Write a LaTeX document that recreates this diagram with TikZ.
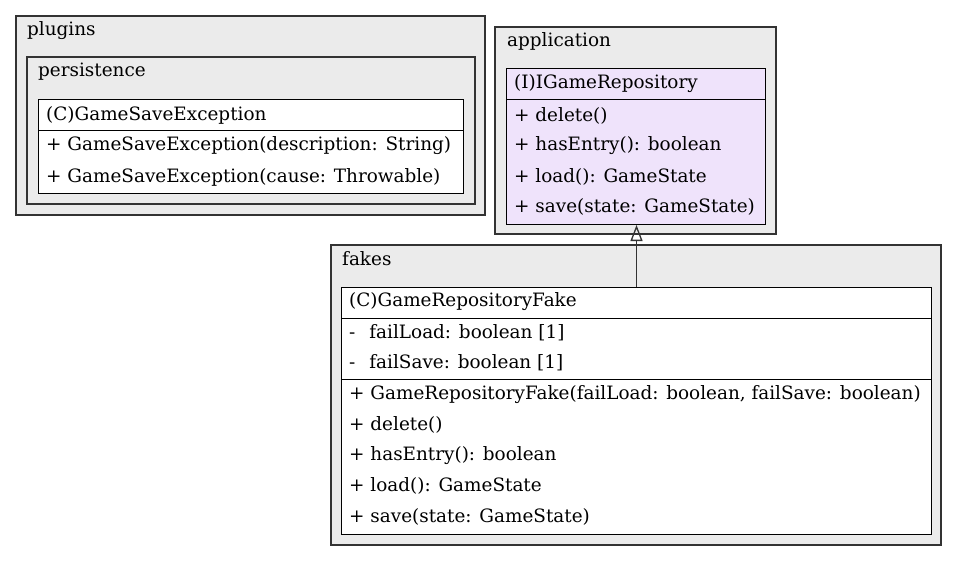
\documentclass[tikz,border=0pt]{standalone}
\usepackage{fontspec}
\setmainfont{DejaVu Serif}
\usetikzlibrary{arrows.meta}
\definecolor{clusterfill}{HTML}{EBEBEB}
\definecolor{clusterdraw}{HTML}{333333}
\definecolor{lavender}{HTML}{EFE3FB}
\tikzset{
  cluster/.style={draw=clusterdraw, fill=clusterfill, line width=1.3pt},
  classbox/.style={draw=black, fill=white, line width=1pt, rectangle, anchor=north west, inner sep=0pt},
  ibox/.style={classbox, fill=lavender},
  txt/.style={anchor=west, inner sep=0pt, font=\fontsize{18.4}{22}\selectfont},
  sep/.style={draw=black, line width=1pt},
  realize/.style={line width=1.3pt, draw=clusterdraw, -{Triangle[open, length=16pt, width=12pt, line width=1.3pt]}},
}
\begin{document}
\begin{tikzpicture}[x=1pt,y=-1pt]
\useasboundingbox (0,0) rectangle (957,561);
% clusters
\draw[cluster] (16,16) rectangle (485,215);
\node[txt] (lplugins) at (27,31) {plugins};
\draw[cluster] (27,57) rectangle (475,204);
\node[txt] (lpersist) at (38,72) {persistence};
\draw[cluster] (495,27) rectangle (776,234);
\node[txt] (lapp) at (507,41) {application};
\draw[cluster] (331,245) rectangle (941,545);
\node[txt] (lfakes) at (342,259) {fakes};
% GameSaveException
\node[classbox, minimum width=425pt, minimum height=94pt] (gse) at (38,99) {};
\draw[sep] (38,131) -- (463,131);
\node[txt] (gse0) at (46,115) {(C)GameSaveException};
\node[txt] (gse1) at (46,146) {+ GameSaveException(description: String)};
\node[txt] (gse2) at (46,177) {+ GameSaveException(cause: Throwable)};
% IGameRepository
\node[ibox, minimum width=259pt, minimum height=156pt] (igr) at (506,68) {};
\draw[sep] (506,100) -- (765,100);
\node[txt] (igr0) at (514,84) {(I)IGameRepository};
\node[txt] (igr1) at (514,115.5) {+ delete()};
\node[txt] (igr2) at (514,146) {+ hasEntry(): boolean};
\node[txt] (igr3) at (514,176.5) {+ load(): GameState};
\node[txt] (igr4) at (514,207) {+ save(state: GameState)};
% GameRepositoryFake
\node[classbox, minimum width=590pt, minimum height=247pt] (grf) at (341,287) {};
\draw[sep] (341,318) -- (931,318);
\draw[sep] (341,379) -- (931,379);
\node[txt] (grf0) at (349,302) {(C)GameRepositoryFake};
\node[txt] (grf1) at (349,333) {-\hspace{14pt}failLoad: boolean [1]};
\node[txt] (grf2) at (349,363) {-\hspace{14pt}failSave: boolean [1]};
\node[txt] (grf3) at (349,394.5) {+ GameRepositoryFake(failLoad: boolean, failSave: boolean)};
\node[txt] (grf4) at (349,425) {+ delete()};
\node[txt] (grf5) at (349,455.5) {+ hasEntry(): boolean};
\node[txt] (grf6) at (349,486) {+ load(): GameState};
\node[txt] (grf7) at (349,516.5) {+ save(state: GameState)};
% realization
\draw[realize] (grf.north) -- (grf.north |- igr.south);
\end{tikzpicture}
\end{document}
